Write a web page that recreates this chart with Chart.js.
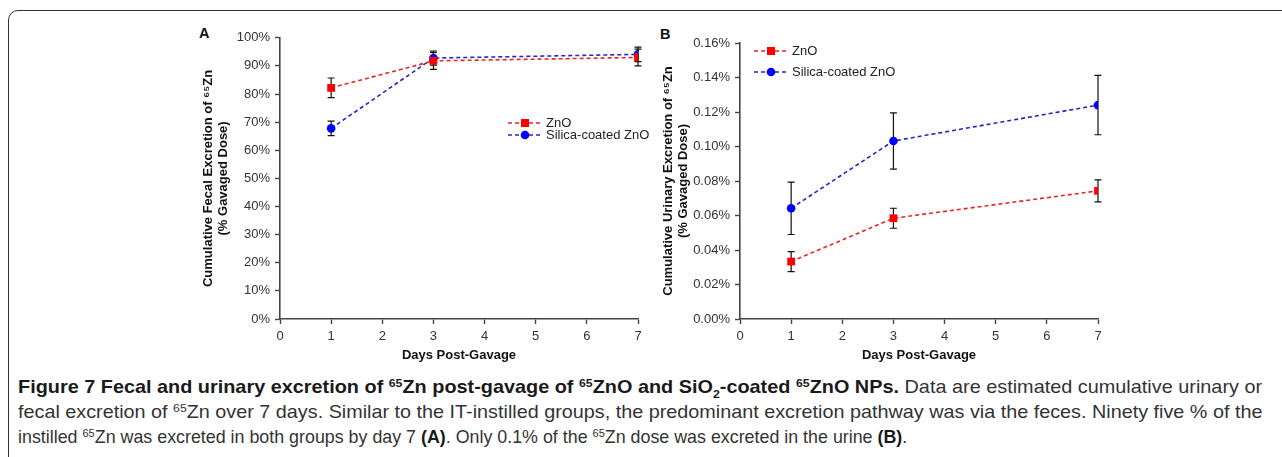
<!DOCTYPE html>
<html>
<head>
<meta charset="utf-8">
<script src="https://cdn.jsdelivr.net/npm/chart.js@4"></script>
<style>
  html, body { margin: 0; padding: 0; background: #fff; overflow: hidden; }
  body { width: 1282px; height: 457px; position: relative; }
  .frame {
    position: absolute; left: 8px; top: 10px; width: 1300px; height: 480px;
    border: 1.5px solid #333; border-top-left-radius: 10px; box-sizing: border-box;
  }
  .panel { position: absolute; top: 25px; width: 460px; height: 345px; }
  .panel-letter {
    position: absolute; font: bold 14.5px "Liberation Sans", Arial, sans-serif; color: #111;
  }
  .caption {
    position: absolute; left: 18px; top: 374px;
    font-family: "Liberation Sans Narrow", "Liberation Sans", Arial, sans-serif;
    font-size: 18.5px; color: #333; line-height: 25px;
  }
  .caption div { white-space: nowrap; transform-origin: 0 0; width: max-content; }
  .caption b { color: #1a1a1a; }
  .caption sup { font-size: 0.62em; line-height: 0; vertical-align: 0.55em; }
</style>
</head>
<body>
<div class="frame"></div>
<div class="panel-letter" style="left:199px; top:25px;">A</div>
<div class="panel-letter" style="left:660px; top:26px;">B</div>
<div class="panel" style="left:190px;"><canvas id="fecal"></canvas></div>
<div class="panel" style="left:650px;"><canvas id="urine"></canvas></div>

<div class="caption">
  <div data-w="1244"><b>Figure 7 Fecal and urinary excretion of <sup>65</sup>Zn post-gavage of <sup>65</sup>ZnO and SiO<sub style="font-size:0.62em;line-height:0">2</sub>-coated <sup>65</sup>ZnO NPs.</b> Data are estimated cumulative urinary or</div>
  <div data-w="1244">fecal excretion of <sup>65</sup>Zn over 7 days. Similar to the IT-instilled groups, the predominant excretion pathway was via the feces. Ninety five % of the</div>
  <div data-w="889">instilled <sup>65</sup>Zn was excreted in both groups by day 7 <b>(A)</b>. Only 0.1% of the <sup>65</sup>Zn dose was excreted in the urine <b>(B)</b>.</div>
</div>

<script>
const RED = "#ff0000";
const RED_LINE = "#e82424";
const BLUE = "#0000ff";
const BLUE_LINE = "#2424c8";
const AXIS = "#444";
const FONT = "'Liberation Sans', Arial, sans-serif";

const days = [1, 3, 7];
const xTicks = [0, 1, 2, 3, 4, 5, 6, 7];

// panel A, fecal excretion (% of gavaged dose)
const fecalZnO = [82.2, 91.8, 93.0];
const fecalZnOErr = [3.5, 3.0, 3.0];
const fecalSilica = [67.8, 92.8, 94.1];
const fecalSilicaErr = [2.6, 2.5, 2.6];

// panel B, urinary excretion (% of gavaged dose)
const urineZnO = [0.0333, 0.0584, 0.0743];
const urineZnOErr = [0.0058, 0.0058, 0.0064];
const urineSilica = [0.0642, 0.1032, 0.1240];
const urineSilicaErr = [0.0152, 0.0163, 0.0172];

const seriesNames = ["ZnO", "Silica-coated ZnO"];

function points(values) {
  return values.map((v, i) => ({ x: days[i], y: v }));
}

function makeDatasets(zno, znoErr, silica, silicaErr) {
  return [
    {
      label: seriesNames[0], data: points(zno), errors: znoErr,
      borderColor: RED_LINE, backgroundColor: RED, pointBorderColor: RED,
      pointStyle: "rect", pointRadius: 5.5, pointBorderWidth: 0,
      borderWidth: 1.6, borderDash: [4, 3], tension: 0,
    },
    {
      label: seriesNames[1], data: points(silica), errors: silicaErr,
      borderColor: BLUE_LINE, backgroundColor: BLUE, pointBorderColor: BLUE,
      pointStyle: "circle", pointRadius: 4.3, pointBorderWidth: 0,
      borderWidth: 1.6, borderDash: [4, 3], tension: 0,
    },
  ];
}

const errorBars = {
  id: "errorBars",
  beforeDatasetsDraw(chart) {
    const { ctx, scales } = chart;
    ctx.save();
    ctx.strokeStyle = "#111";
    ctx.lineWidth = 1.2;
    chart.data.datasets.forEach((ds) => {
      ds.data.forEach((p, i) => {
        const x = scales.x.getPixelForValue(p.x);
        const top = scales.y.getPixelForValue(p.y + ds.errors[i]);
        const bottom = scales.y.getPixelForValue(p.y - ds.errors[i]);
        ctx.beginPath();
        ctx.moveTo(x, top); ctx.lineTo(x, bottom);
        ctx.moveTo(x - 3.5, top); ctx.lineTo(x + 3.5, top);
        ctx.moveTo(x - 3.5, bottom); ctx.lineTo(x + 3.5, bottom);
        ctx.stroke();
      });
    });
    ctx.restore();
  },
};

// legend drawn as "--marker-- label", like the spreadsheet original
const lineLegend = {
  id: "lineLegend",
  afterDraw(chart, args, opts) {
    const { ctx } = chart;
    ctx.save();
    ctx.font = `13px ${FONT}`;
    ctx.textBaseline = "middle";
    chart.data.datasets.forEach((ds, i) => {
      const y = opts.y + i * opts.gap;
      ctx.strokeStyle = ds.borderColor;
      ctx.lineWidth = 1.6;
      ctx.setLineDash([4, 3]);
      ctx.beginPath();
      ctx.moveTo(opts.x, y); ctx.lineTo(opts.x + 34, y);
      ctx.stroke();
      ctx.setLineDash([]);
      ctx.fillStyle = ds.backgroundColor;
      ctx.beginPath();
      if (ds.pointStyle === "rect") ctx.rect(opts.x + 17 - 4, y - 4, 8, 8);
      else ctx.arc(opts.x + 17, y, 4.3, 0, Math.PI * 2);
      ctx.fill();
      ctx.fillStyle = "#222";
      ctx.fillText(ds.label, opts.x + 38, y + 0.5);
    });
    ctx.restore();
  },
};

function makeChart(id, datasets, yMax, yStep, yFormat, yTitle, padTop, legendPos) {
  return new Chart(document.getElementById(id), {
    type: "line",
    data: { datasets },
    plugins: [errorBars, lineLegend],
    options: {
      responsive: true,
      maintainAspectRatio: false,
      animation: false,
      layout: { padding: { top: padTop, right: 12, left: 0, bottom: 0 } },
      plugins: {
        legend: { display: false },
        tooltip: { enabled: false },
        lineLegend: legendPos,
      },
      scales: {
        x: {
          type: "linear", min: 0, max: 7,
          afterBuildTicks: (s) => { s.ticks = xTicks.map((v) => ({ value: v })); },
          afterFit: (s) => { s.height = 51; },
          border: { color: AXIS, width: 1.6 },
          grid: { drawOnChartArea: false, drawTicks: true, tickLength: 5, color: AXIS, tickWidth: 1.4 },
          ticks: { color: "#333", font: { family: FONT, size: 13 }, padding: 5 },
          title: {
            display: true, text: "Days Post-Gavage", color: "#111",
            font: { family: FONT, size: 13, weight: "bold" }, padding: { top: 0, bottom: 7 },
          },
        },
        y: {
          min: 0, max: yMax,
          afterFit: (s) => { s.width = 90; },
          border: { color: AXIS, width: 1.6 },
          grid: { drawOnChartArea: false, drawTicks: true, tickLength: 5, color: AXIS, tickWidth: 1.4 },
          ticks: { stepSize: yStep, color: "#333", font: { family: FONT, size: 13 }, padding: 5, callback: yFormat },
          title: {
            display: true, text: yTitle, color: "#111",
            font: { family: FONT, size: 13, weight: "bold", lineHeight: 1.16 }, padding: { top: 10.5, bottom: 0 },
          },
        },
      },
    },
  });
}

makeChart(
  "fecal",
  makeDatasets(fecalZnO, fecalZnOErr, fecalSilica, fecalSilicaErr),
  100, 10, (v) => `${v}%`,
  ["Cumulative Fecal Excretion of \u2076\u2075Zn", "(% Gavaged Dose)"],
  12, { x: 318, y: 98, gap: 12 }
);

makeChart(
  "urine",
  makeDatasets(urineZnO, urineZnOErr, urineSilica, urineSilicaErr),
  0.16, 0.02, (v) => `${v.toFixed(2)}%`,
  ["Cumulative Urinary Excretion of \u2076\u2075Zn", "(% Gavaged Dose)"],
  18, { x: 104, y: 26, gap: 21 }
);

// fit each caption line to the width it has in the printed figure
document.querySelectorAll(".caption div").forEach((line) => {
  const target = parseFloat(line.dataset.w);
  line.style.transform = `scaleX(${target / line.scrollWidth})`;
});
</script>
</body>
</html>
